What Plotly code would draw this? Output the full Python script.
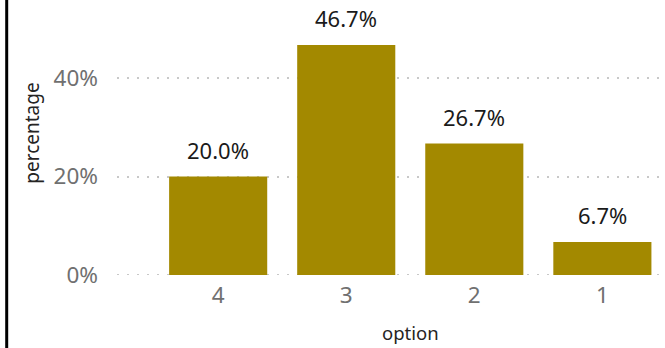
import plotly.graph_objects as go

categories = ["4", "3", "2", "1"]
values = [20.0, 46.7, 26.7, 6.7]
labels = ["20.0%", "46.7%", "26.7%", "6.7%"]
y_ticks = [0, 20, 40]
y_tick_labels = ["0%", "20%", "40%"]

W, H = 665, 348
L, R, T, B = 117, 5, 10, 73

fig = go.Figure()
fig.add_trace(go.Bar(
    x=categories, y=values,
    marker=dict(color="#A38900", line=dict(width=0)),
    width=0.766,
    hoverinfo="skip",
))

for i, (v, t) in enumerate(zip(values, labels)):
    fig.add_annotation(x=i, y=v, text=t, showarrow=False, xref="x", yref="y",
                       yanchor="bottom", yshift=10,
                       font=dict(family="Noto Sans", size=22, color="#1a1a1a"))

fig.add_annotation(x=(len(categories) - 1) / 2, y=0, xref="x", yref="paper", text="option",
                   showarrow=False, yanchor="top", yshift=-43,
                   font=dict(family="Noto Sans", size=18.5, color="#252423"))
fig.add_annotation(x=-0.158, y=0.5, xref="paper", yref="paper", text="percentage",
                   showarrow=False, textangle=-90, xanchor="center", yanchor="middle",
                   yshift=9,
                   font=dict(family="Noto Sans", size=19, color="#252423"))

fig.add_shape(type="line", xref="paper", yref="paper",
              x0=(6.7 - L) / (W - L - R), x1=(6.7 - L) / (W - L - R),
              y0=-0.5, y1=1.5, line=dict(color="black", width=3))

# dotted baseline grid at 0%
fig.add_shape(type="line", xref="paper", yref="y", x0=0, x1=1, y0=y_ticks[0], y1=y_ticks[0],
              layer="below", line=dict(color="#c8c8c8", width=2, dash="2px,8px"))

fig.update_layout(
    width=W, height=H,
    margin=dict(l=L, r=R, t=T, b=B),
    paper_bgcolor="white", plot_bgcolor="white",
    showlegend=False,
    xaxis=dict(
        type="category", categoryorder="array", categoryarray=categories,
        range=[-0.79, 3.45], showgrid=False, zeroline=False, showline=False,
        ticks="", tickfont=dict(family="Noto Sans", size=22.5, color="#707070"),
        ticklabelstandoff=4,
    ),
    yaxis=dict(
        range=[0, 265 / 4.925], tickvals=y_ticks, ticktext=y_tick_labels,
        showgrid=True, gridcolor="#c8c8c8", gridwidth=2, griddash="2px,8px",
        zeroline=False, showline=False, ticks="",
        tickfont=dict(family="Noto Sans", size=22.5, color="#707070"),
        ticklabelstandoff=18,
    ),
)

fig.write_html("out.html", config={"displayModeBar": False},
               post_script="document.body.style.margin='0';")
